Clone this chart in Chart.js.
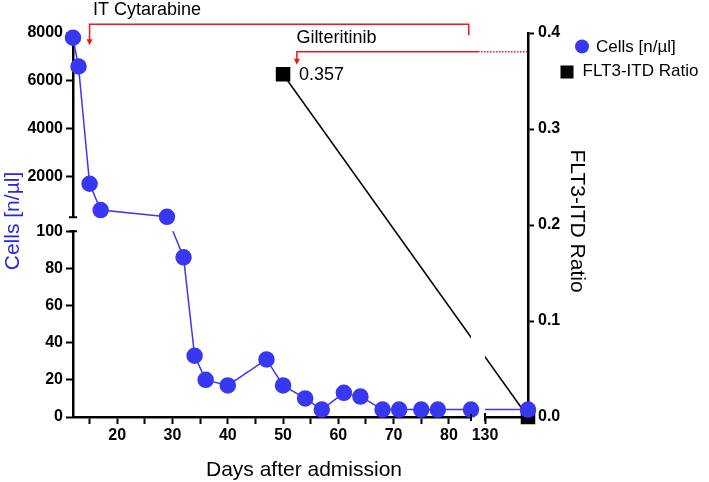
<!DOCTYPE html>
<html lang="en">
<head>
<meta charset="UTF-8">
<title>Cells and FLT3-ITD ratio</title>
<script src="https://cdn.jsdelivr.net/npm/chart.js"></script>
<style>
  html, body { margin: 0; padding: 0; background: #fff; }
  #wrap { width: 709px; height: 482px; }
</style>
</head>
<body>
<div id="wrap"><canvas id="chart"></canvas></div>
<script>
// days after admission and cell counts [n/µl]
const days  = [12, 13, 15, 17, 29, 32, 34, 36, 40, 47, 50, 54, 57, 61, 64, 68, 71, 75, 78, 84, 140];
const cells = [7800, 6600, 1700, 600, 320, 86, 33, 20, 17, 31, 17, 10, 4, 13, 11, 4, 4, 4, 4, 4, 4];

// FLT3-ITD ratio
const ratioDays   = [50, 140];
const ratioValues = [0.357, 0];

// tick labels
const xTicksLeft  = [15, 20, 25, 30, 35, 40, 45, 50, 55, 60, 65, 70, 75, 80];
const xTicksRight = [130];
const yTicksUpper = [2000, 4000, 6000, 8000];
const yTicksLower = [0, 20, 40, 60, 80, 100];
const yTicksRatio = [0, 0.1, 0.2, 0.3, 0.4];

// treatments: label, first day, last day
const treatments = [
  ['IT Cytarabine', 15, 83.6],
  ['Gilteritinib', 52.5, 140]
];

// where the axes are broken
const cellBreak = 100;
const dayBreak = 100;

const BLUE = 'rgb(56, 56, 242)';
const RED = '#e8191d';
const FONT = '"Liberation Sans", Arial, Helvetica, sans-serif';
Chart.defaults.font.family = FONT;

const tickFont = {family: FONT, size: 16, weight: 'bold'};
const tickGrid = {display: true, drawOnChartArea: false, drawTicks: true, tickLength: 7, tickWidth: 2, tickColor: '#000'};
const axisBorder = {display: true, color: '#000', width: 2.5};
const hidden = {ticks: {display: false}, grid: {display: false}, border: {display: false}};

function fixedTicks(values) {
    return scale => { scale.ticks = values.map(v => ({value: v})); };
}
// fixed box size, no extra padding for overflowing labels
function noPad(s) { s.paddingLeft = s.paddingRight = s.paddingTop = s.paddingBottom = 0; }
function setHeight(h) { return s => { s.height = h; noPad(s); }; }
function setWidth(w) { return s => { s.width = w; noPad(s); }; }

// split the cell series over the broken axes
const cellsUpper = [], cellsLower = [], cellsLate = [];
days.forEach((d, i) => {
    const p = {x: d, y: cells[i]};
    if (d > dayBreak) cellsLate.push(p);
    else if (cells[i] > cellBreak) cellsUpper.push(p);
    else cellsLower.push(p);
});
const ratioEarly = [], ratioLate = [];
ratioDays.forEach((d, i) => {
    (d > dayBreak ? ratioLate : ratioEarly).push({x: d, y: ratioValues[i]});
});

function cellPixel(chart, d, v) {
    const xs = d > dayBreak ? chart.scales.xR : chart.scales.xL;
    const ys = v > cellBreak ? chart.scales.yU : chart.scales.yL;
    return {x: xs.getPixelForValue(d), y: ys.getPixelForValue(v), seg: xs.id + ys.id};
}
function ratioPixel(chart, d, v) {
    const xs = d > dayBreak ? chart.scales.xR : chart.scales.xL;
    return {x: xs.getPixelForValue(d), y: chart.scales.yR.getPixelForValue(v), seg: xs.id};
}

// line between two points, hidden inside the axis breaks
function brokenLine(chart, a, b, color, useX, useY) {
    const ctx = chart.ctx;
    const gx = chart.scales.xGap, gy = chart.scales.yGap;
    const xs = useX ? [[0, gx.left], [gx.right, chart.width]] : [[0, chart.width]];
    const ys = useY ? [[0, gy.top], [gy.bottom, chart.height]] : [[0, chart.height]];
    ctx.save();
    ctx.beginPath();
    xs.forEach(([x0, x1]) => ys.forEach(([y0, y1]) => ctx.rect(x0, y0, x1 - x0, y1 - y0)));
    ctx.clip();
    ctx.strokeStyle = color;
    ctx.lineWidth = 1.5;
    ctx.beginPath();
    ctx.moveTo(a.x, a.y);
    ctx.lineTo(b.x, b.y);
    ctx.stroke();
    ctx.restore();
}

const extras = {
    id: 'extras',
    beforeDatasetsDraw(chart) {
        for (let i = 1; i < days.length; i++) {
            const a = cellPixel(chart, days[i - 1], cells[i - 1]);
            const b = cellPixel(chart, days[i], cells[i]);
            if (a.seg !== b.seg) brokenLine(chart, a, b, BLUE, true, true);
        }
        for (let i = 1; i < ratioDays.length; i++) {
            const a = ratioPixel(chart, ratioDays[i - 1], ratioValues[i - 1]);
            const b = ratioPixel(chart, ratioDays[i], ratioValues[i]);
            if (a.seg !== b.seg) brokenLine(chart, a, b, '#000', true, false);
        }
    },
    afterDraw(chart) {
        const {ctx, scales} = chart;
        const {xL, xR, yU, yL} = scales;
        const base = chart.chartArea.bottom;

        // caps at the axis breaks
        ctx.save();
        ctx.strokeStyle = '#000';
        ctx.lineWidth = 2;
        ctx.beginPath();
        ctx.moveTo(yU.right - 4, yU.bottom); ctx.lineTo(yU.right + 4, yU.bottom);
        ctx.moveTo(yL.right - 4, yL.top); ctx.lineTo(yL.right + 4, yL.top);
        ctx.moveTo(xL.right, base - 3); ctx.lineTo(xL.right, base + 4);
        ctx.moveTo(xR.left, base - 4); ctx.lineTo(xR.left, base + 4);
        ctx.stroke();

        // value label of the ratio
        ctx.fillStyle = '#000';
        ctx.font = '18px ' + FONT;
        ctx.textAlign = 'left';
        ctx.textBaseline = 'middle';
        ratioDays.forEach((d, i) => {
            if (ratioValues[i] <= 0) return;
            const p = ratioPixel(chart, d, ratioValues[i]);
            ctx.fillText(String(ratioValues[i]), p.x + 16, p.y + 0.5);
        });

        // treatment brackets
        const rows = [{y: 24.3, arrow: 21, dx: 3.5}, {y: 51.7, arrow: 13, dx: -0.5}];
        ctx.font = '18px ' + FONT;
        ctx.textBaseline = 'alphabetic';
        treatments.forEach(([label, start, end], k) => {
            const r = rows[k];
            const x0 = xL.getPixelForValue(start);
            ctx.strokeStyle = RED;
            ctx.fillStyle = RED;
            ctx.lineWidth = 1.5;
            ctx.beginPath();
            ctx.moveTo(x0, r.y + r.arrow - 5);
            ctx.lineTo(x0, r.y);
            if (end > xL.max) {
                const solidEnd = (scales.xGap.left + scales.xGap.right) / 2;
                ctx.lineTo(solidEnd, r.y);
                ctx.stroke();
                ctx.save();
                ctx.setLineDash([1.5, 1.5]);
                ctx.beginPath();
                ctx.moveTo(solidEnd, r.y);
                ctx.lineTo(xR.getPixelForValue(end), r.y);
                ctx.stroke();
                ctx.restore();
            } else {
                const x1 = xL.getPixelForValue(end);
                ctx.lineTo(x1, r.y);
                ctx.lineTo(x1, r.y + 11);
                ctx.stroke();
            }
            ctx.beginPath();
            ctx.moveTo(x0 - 3, r.y + r.arrow - 6);
            ctx.lineTo(x0 + 3, r.y + r.arrow - 6);
            ctx.lineTo(x0, r.y + r.arrow);
            ctx.closePath();
            ctx.fill();
            ctx.fillStyle = '#000';
            ctx.fillText(label, x0 + r.dx, r.y - 9);
        });

        // axis titles
        ctx.font = '21px ' + FONT;
        ctx.textAlign = 'center';
        ctx.textBaseline = 'alphabetic';
        ctx.fillStyle = '#000';
        ctx.fillText('Days after admission', 304, 476);

        ctx.save();
        ctx.translate(18.5, 221);
        ctx.rotate(-Math.PI / 2);
        ctx.fillStyle = 'rgb(40, 40, 225)';
        ctx.fillText('Cells [n/µl]', 0, 0);
        ctx.restore();

        ctx.save();
        ctx.translate(570.5, 221);
        ctx.rotate(Math.PI / 2);
        ctx.fillText('FLT3-ITD Ratio', 0, 0);
        ctx.restore();

        // legend
        ctx.font = '17px ' + FONT;
        ctx.textAlign = 'left';
        ctx.textBaseline = 'middle';
        ctx.fillStyle = BLUE;
        ctx.beginPath();
        ctx.arc(582, 46.5, 7, 0, Math.PI * 2);
        ctx.fill();
        ctx.fillStyle = '#000';
        ctx.fillRect(560.5, 65.5, 13, 13);
        ctx.fillText('Cells [n/µl]', 596, 47);
        ctx.fillText('FLT3-ITD Ratio', 582.5, 71.5);
        ctx.restore();
    }
};

const blueSet = {
    borderColor: BLUE, backgroundColor: BLUE, pointBorderColor: BLUE,
    borderWidth: 1.5, pointRadius: 7.5, pointHoverRadius: 7.5,
    showLine: true, clip: false
};
const ratioSet = {
    borderColor: '#000', backgroundColor: '#000', borderWidth: 1.5,
    pointStyle: 'rect', pointRadius: 9.2, pointHoverRadius: 9.2,
    showLine: true, clip: false
};

new Chart(document.getElementById('chart'), {
    type: 'scatter',
    data: {
        datasets: [
            {...blueSet, label: 'Cells [n/µl]', data: cellsUpper, xAxisID: 'xL', yAxisID: 'yU'},
            {...blueSet, label: 'Cells [n/µl]', data: cellsLower, xAxisID: 'xL', yAxisID: 'yL'},
            {...blueSet, label: 'Cells [n/µl]', data: cellsLate, xAxisID: 'xR', yAxisID: 'yL'},
            {...ratioSet, label: 'FLT3-ITD Ratio', data: ratioEarly, xAxisID: 'xL', yAxisID: 'yR'},
            {...ratioSet, label: 'FLT3-ITD Ratio', data: ratioLate, xAxisID: 'xR', yAxisID: 'yR'}
        ]
    },
    options: {
        responsive: true,
        maintainAspectRatio: false,
        animation: false,
        events: [],
        layout: {padding: {top: 33, right: 111, bottom: 0, left: 0}},
        plugins: {legend: {display: false}, tooltip: {enabled: false}},
        scales: {
            xL: {
                type: 'linear', position: 'bottom', stack: 'days', stackWeight: 398, weight: 1,
                min: 12, max: 84,
                afterBuildTicks: fixedTicks(xTicksLeft), afterFit: setHeight(65),
                grid: tickGrid, border: axisBorder,
                ticks: {font: tickFont, color: '#000', padding: 2, maxRotation: 0, autoSkip: false,
                        callback: v => v % 10 === 0 ? String(v) : ''}
            },
            xGap: {type: 'linear', position: 'bottom', stack: 'days', stackWeight: 14, weight: 2,
                   afterFit: setHeight(65), ...hidden},
            xR: {
                type: 'linear', position: 'bottom', stack: 'days', stackWeight: 43, weight: 3,
                min: 130, max: 140,
                afterBuildTicks: fixedTicks(xTicksRight), afterFit: setHeight(65),
                grid: tickGrid, border: axisBorder,
                ticks: {font: tickFont, color: '#000', padding: 2, maxRotation: 0, autoSkip: false,
                        callback: v => String(v)}
            },
            yU: {
                type: 'linear', position: 'left', stack: 'cells', stackWeight: 184, weight: 3,
                min: 300, max: 8000,
                afterBuildTicks: fixedTicks(yTicksUpper), afterFit: setWidth(73),
                grid: tickGrid, border: axisBorder,
                ticks: {font: tickFont, color: '#000', padding: 3, autoSkip: false, callback: v => String(v)}
            },
            yGap: {type: 'linear', position: 'left', stack: 'cells', stackWeight: 14, weight: 2,
                   afterFit: setWidth(73), ...hidden},
            yL: {
                type: 'linear', position: 'left', stack: 'cells', stackWeight: 185.4, weight: 1,
                min: 0, max: 100,
                afterBuildTicks: fixedTicks(yTicksLower), afterFit: setWidth(73),
                grid: tickGrid, border: axisBorder,
                ticks: {font: tickFont, color: '#000', padding: 3, autoSkip: false, callback: v => String(v)}
            },
            yR: {
                type: 'linear', position: 'right', min: 0, max: 0.4,
                afterBuildTicks: fixedTicks(yTicksRatio), afterFit: setWidth(70),
                grid: {...tickGrid, tickLength: 6}, border: axisBorder,
                ticks: {font: tickFont, color: '#000', padding: 4, autoSkip: false, callback: v => v.toFixed(1)}
            }
        }
    },
    plugins: [extras]
});
</script>
</body>
</html>
